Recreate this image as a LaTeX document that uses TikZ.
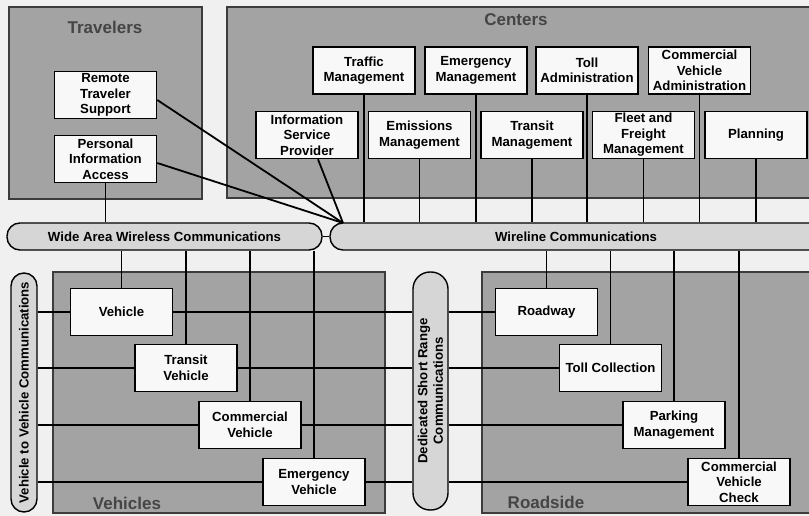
\documentclass[tikz,border=0pt]{standalone}
\usepackage{fontspec}
\setmainfont{Liberation Sans}
\usetikzlibrary{calc}
\pgfdeclarelayer{groups}
\pgfdeclarelayer{wires}
\pgfsetlayers{groups,wires,main}
\definecolor{bgc}{HTML}{F0F0F0}
\definecolor{grpfill}{HTML}{A3A3A3}
\definecolor{grpline}{HTML}{3C3C3C}
\definecolor{nodefill}{HTML}{F8F8F8}
\definecolor{pillfill}{HTML}{D6D6D6}
\definecolor{titlecol}{HTML}{454545}
\newcommand\bxfont{\bfseries\fontsize{13.2}{15.5}\selectfont}
\newcommand\ttlfont{\bfseries\fontsize{17}{20}\selectfont}
\begin{document}
\begin{tikzpicture}[x=1pt,y=-1pt,
  box/.style={draw=black, line width=1.6pt, fill=nodefill, minimum width=102pt, minimum height=47pt, align=center, inner sep=1pt, font=\bxfont},
  pill/.style={draw=black, line width=1.4pt, fill=pillfill, rounded corners=13pt, font=\bxfont, inner sep=0pt, align=center},
  wire/.style={line width=1.8pt, draw=black},
  grp/.style={fill=grpfill, draw=grpline, line width=1.3pt},
  grpedge/.style={draw=grpline, line width=1.3pt},
  grptitle/.style={font=\ttlfont, text=titlecol, inner sep=0pt}]
\useasboundingbox (0,0) rectangle (809,516);
\clip (0,0) rectangle (809,516);
% nodes
\node[box] (rts) at (105.5,95) {Remote\\Traveler\\Support};
\node[box] (pia) at (105.5,159) {Personal\\Information\\Access};
\node[box] (tm) at (364,70.5) {Traffic\\Management};
\node[box] (em) at (476,70.5) {Emergency\\Management};
\node[box] (ta) at (587,70.5) {Toll\\Administration};
\node[box] (cva) at (699.5,70.5) {Commercial\\Vehicle\\Administration};
\node[box] (isp) at (307,135) {Information\\Service\\Provider};
\node[box] (emis) at (419.5,135) {Emissions\\Management};
\node[box] (trm) at (532,135) {Transit\\Management};
\node[box] (ffm) at (643.5,135) {Fleet and\\Freight\\Management};
\node[box] (pln) at (756,135) {Planning};
\node[pill, minimum width=315pt, minimum height=27pt] (waw) at (164.5,236.5) {Wide Area Wireless Communications};
\node[pill, minimum width=492pt, minimum height=27pt] (wl) at (576,236.5) {Wireline Communications};
\node[pill, rotate=90, minimum width=239pt, minimum height=26pt] (v2v) at (24,392.5) {Vehicle to Vehicle Communications};
\node[pill, rotate=90, rounded corners=17pt, minimum width=238pt, minimum height=35pt] (dsrc) at (430.5,391) {Dedicated Short Range\\Communications};
\node[box] (veh) at (121.5,312) {Vehicle};
\node[box] (tv) at (186,368) {Transit\\Vehicle};
\node[box] (cv) at (250,425) {Commercial\\Vehicle};
\node[box] (ev) at (314,482) {Emergency\\Vehicle};
\node[box] (rw) at (546.5,312) {Roadway};
\node[box] (tc) at (610.5,368) {Toll Collection};
\node[box] (pm) at (674,425) {Parking\\Management};
\node[box] (cvc) at (739,482) {Commercial\\Vehicle\\Check};
\node[grptitle] (ttrav) at (105,27) {Travelers};
\node[grptitle] (tcent) at (516,20) {Centers};
\node[grptitle] (tveh) at (127,503) {Vehicles};
\node[grptitle] (troad) at (546,502) {Roadside};
% groups
\begin{pgfonlayer}{groups}
\fill[bgc] (0,0) rectangle (809,516);
\draw[grp] (9,7) rectangle (202,199);
\fill[grpfill] (227,7) rectangle (809,198);
\draw[grpedge] (809,7) -| (227,198) -- (809,198);
\draw[grp] (53,272) rectangle (385,513);
\fill[grpfill] (482,272) rectangle (809,513);
\draw[grpedge] (809,272) -| (482,513) -- (809,513);
\end{pgfonlayer}
% wires
\begin{pgfonlayer}{wires}
\coordinate (conv) at (343,223);
\draw[wire] ($(rts.east)+(0,5)$) -- (conv);
\draw[wire] ($(pia.east)+(0,4)$) -- (conv);
\draw[wire] ($(isp.south)+(11,0)$) -- (conv);
\draw[wire] (pia.south) -- (pia.south |- waw.north);
\foreach \n in {tm,em,ta,cva,emis,trm,ffm,pln}
  \draw[wire] (\n.south) -- (\n.south |- wl.north);
\draw[wire] (waw.east) -- (wl.west);
\foreach \n in {veh,tv,cv,ev}{
  \draw[wire] (\n.north) -- (\n.north |- waw.south);
  \draw[wire] (\n.center -| v2v.south) -- (\n.center -| dsrc.north);
}
\foreach \n in {rw,tc,pm,cvc}{
  \draw[wire] (\n.north) -- (\n.north |- wl.south);
  \draw[wire] (\n.west -| dsrc.south) -- (\n.west);
}
\end{pgfonlayer}
\end{tikzpicture}
\end{document}
